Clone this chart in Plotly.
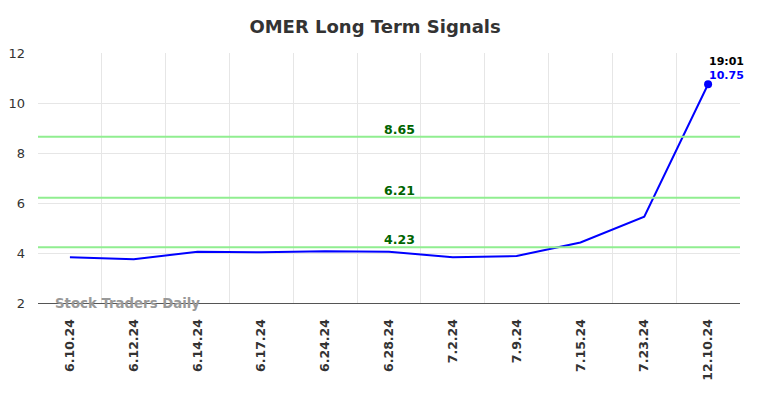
import plotly.graph_objects as go

dates = ["6.10.24", "6.12.24", "6.14.24", "6.17.24", "6.24.24", "6.28.24",
         "7.2.24", "7.9.24", "7.15.24", "7.23.24", "12.10.24"]
prices = [3.83, 3.75, 4.05, 4.03, 4.07, 4.05, 3.83, 3.88, 4.42, 5.45, 10.75]
levels = [8.65, 6.21, 4.23]
last_time = "19:01"

fig = go.Figure()
for lv in levels:
    fig.add_shape(type="line", xref="paper", x0=0, x1=1, yref="y", y0=lv, y1=lv,
                  line=dict(color="lightgreen", width=2), layer="above")
    fig.add_annotation(x=5.17, y=lv, xref="x", yref="y", text=f"<b>{lv:.2f}</b>",
                       showarrow=False, yanchor="bottom", yshift=-2,
                       font=dict(color="darkgreen", size=12.5, family="DejaVu Sans"))

fig.add_trace(go.Scatter(x=dates, y=prices, mode="lines",
                         line=dict(color="blue", width=2), hoverinfo="skip"))
fig.add_trace(go.Scatter(x=[dates[-1]], y=[prices[-1]], mode="markers",
                         marker=dict(color="blue", size=8)))

fig.add_annotation(x=dates[-1], y=prices[-1], text=f"<b>{last_time}</b>", showarrow=False,
                   xanchor="left", yanchor="bottom", xshift=-1, yshift=14,
                   font=dict(color="black", size=11, family="DejaVu Sans"))
fig.add_annotation(x=dates[-1], y=prices[-1], text=f"<b>{prices[-1]:.2f}</b>", showarrow=False,
                   xanchor="left", yanchor="bottom", xshift=-1, yshift=0,
                   font=dict(color="blue", size=11, family="DejaVu Sans"))

fig.add_annotation(x=0.022, y=2, xref="paper", yref="y", text="<b>Stock Traders Daily</b>",
                   showarrow=False, xanchor="left", yanchor="middle",
                   font=dict(color="#999999", size=13.3, family="DejaVu Sans"))

fig.update_layout(
    width=776, height=390,
    margin=dict(l=30, r=44, t=45, b=95, autoexpand=False),
    paper_bgcolor="white", plot_bgcolor="white",
    showlegend=False,
    title=dict(text="<b>OMER Long Term Signals</b>", x=0.473, xanchor="center",
               y=0.951, yanchor="middle", yref="container",
               font=dict(size=18, color="#333333", family="DejaVu Sans")),
    font=dict(family="DejaVu Sans", color="#333333"),
)
fig.update_xaxes(type="category", tickson="boundaries", range=[-0.5, 10.5],
                 showgrid=True, gridcolor="#e6e6e6", gridwidth=1, automargin=False,
                 ticks="", tickangle=-90, showline=True, linecolor="#555555", linewidth=1,
                 ticklabelstandoff=10,
                 tickfont=dict(size=12.5, color="#333333", family="DejaVu Sans"),
                 tickprefix="<b>", ticksuffix="</b>", zeroline=False)
fig.update_yaxes(range=[2, 12], dtick=2, showgrid=True, gridcolor="#e6e6e6",
                 zeroline=False, showline=False, ticks="", ticklabelstandoff=12,
                 automargin=False,
                 tickfont=dict(size=13, color="#333333", family="DejaVu Sans"))

fig.write_html("out.html")
